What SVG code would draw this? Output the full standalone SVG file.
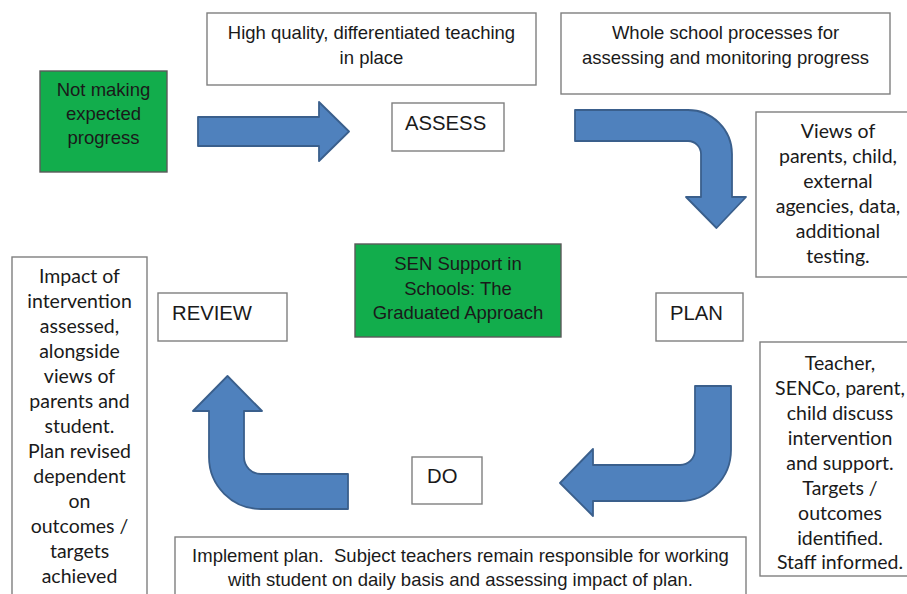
<svg xmlns="http://www.w3.org/2000/svg" width="907" height="594" viewBox="0 0 907 594">
<style>
  .box{fill:#ffffff;stroke:#7f7f7f;stroke-width:1.4}
  .green{fill:#12ad4c;stroke:#5a5a5a;stroke-width:1.4}
  .arial{font-family:"Liberation Sans",Arial,sans-serif;font-size:18.5px;fill:#1a1a1a}
  .stage{font-family:"Liberation Sans",Arial,sans-serif;font-size:20.3px;fill:#1a1a1a}
  .cal{font-family:Lato,"Open Sans",sans-serif;font-size:19.5px;fill:#1a1a1a}
  .mid{text-anchor:middle}
  .arrow{fill:#4f81bd;stroke:#3a5f8c;stroke-width:1.8;stroke-linejoin:round}
</style>
<rect width="907" height="594" fill="#ffffff"/>

<g id="connectors">
  <path class="arrow" d="M198,117 L319,117 L319,102 L349,131.5 L319,161 L319,146 L198,146 Z"/>
  <path class="arrow" d="M575,110 L688,110 A44,44 0 0 1 732,154 L732,197 L746,197 L716.5,228 L686,197 L701,197 L701,154 A13,13 0 0 0 688,141 L575,141 Z"/>
  <path class="arrow" d="M695,386 L731,386 L731,450 A51,51 0 0 1 680,501 L593,501 L593,516 L560,483 L593,449 L593,465 L680,465 A15,15 0 0 0 695,450 Z"/>
  <path class="arrow" d="M348,474 L261,474 A17,17 0 0 1 244,457 L244,411 L262,411 L227.5,376 L193,411 L209,411 L209,457 A52,52 0 0 0 261,509 L348,509 Z"/>
</g>

<g id="not-making">
  <rect class="green" x="40" y="71" width="127" height="101"/>
  <text class="arial mid" x="103.5" y="96">Not making</text>
  <text class="arial mid" x="103.5" y="120">expected</text>
  <text class="arial mid" x="103.5" y="144">progress</text>
</g>

<g id="high-quality">
  <rect class="box" x="207" y="13" width="329" height="72"/>
  <text class="arial mid" x="371.5" y="39">High quality, differentiated teaching</text>
  <text class="arial mid" x="371.5" y="63.5">in place</text>
</g>

<g id="whole-school">
  <rect class="box" x="561" y="13" width="329" height="81"/>
  <text class="arial mid" x="725.5" y="39">Whole school processes for</text>
  <text class="arial mid" x="725.5" y="63.5">assessing and monitoring progress</text>
</g>

<g id="assess">
  <rect class="box" x="392" y="103" width="112" height="48"/>
  <text class="stage" x="405" y="130">ASSESS</text>
</g>

<g id="views">
  <rect class="box" x="756" y="112" width="164" height="165"/>
  <text class="cal mid" x="838" y="138">Views of</text>
  <text class="cal mid" x="838" y="163">parents, child,</text>
  <text class="cal mid" x="838" y="188">external</text>
  <text class="cal mid" x="838" y="213">agencies, data,</text>
  <text class="cal mid" x="838" y="238">additional</text>
  <text class="cal mid" x="838" y="263">testing.</text>
</g>

<g id="sen-support">
  <rect class="green" x="355" y="244" width="206" height="93"/>
  <text class="arial mid" x="458" y="270">SEN Support in</text>
  <text class="arial mid" x="458" y="294.5">Schools: The</text>
  <text class="arial mid" x="458" y="319">Graduated Approach</text>
</g>

<g id="plan">
  <rect class="box" x="656" y="293" width="87" height="48"/>
  <text class="stage" x="670" y="320">PLAN</text>
</g>

<g id="review">
  <rect class="box" x="158" y="293" width="129" height="48"/>
  <text class="stage" x="172" y="320">REVIEW</text>
</g>

<g id="do">
  <rect class="box" x="412" y="457" width="70" height="47"/>
  <text class="stage" x="427" y="483">DO</text>
</g>

<g id="teacher">
  <rect class="box" x="760" y="342" width="160" height="234"/>
  <text class="cal mid" x="840" y="370">Teacher,</text>
  <text class="cal mid" x="840" y="395">SENCo, parent,</text>
  <text class="cal mid" x="840" y="420">child discuss</text>
  <text class="cal mid" x="840" y="445">intervention</text>
  <text class="cal mid" x="840" y="470">and support.</text>
  <text class="cal mid" x="840" y="495">Targets /</text>
  <text class="cal mid" x="840" y="520">outcomes</text>
  <text class="cal mid" x="840" y="544.5">identified.</text>
  <text class="cal mid" x="840" y="569">Staff informed.</text>
</g>

<g id="impact">
  <rect class="box" x="12" y="257" width="135" height="345"/>
  <text class="cal mid" x="79.5" y="283">Impact of</text>
  <text class="cal mid" x="79.5" y="308">intervention</text>
  <text class="cal mid" x="79.5" y="333">assessed,</text>
  <text class="cal mid" x="79.5" y="358">alongside</text>
  <text class="cal mid" x="79.5" y="383">views of</text>
  <text class="cal mid" x="79.5" y="408">parents and</text>
  <text class="cal mid" x="79.5" y="433">student.</text>
  <text class="cal mid" x="79.5" y="458">Plan revised</text>
  <text class="cal mid" x="79.5" y="483">dependent</text>
  <text class="cal mid" x="79.5" y="508">on</text>
  <text class="cal mid" x="79.5" y="533">outcomes /</text>
  <text class="cal mid" x="79.5" y="558">targets</text>
  <text class="cal mid" x="79.5" y="583">achieved</text>
</g>

<g id="implement">
  <rect class="box" x="175" y="537" width="571" height="65"/>
  <text class="arial mid" x="460.5" y="562" xml:space="preserve">Implement plan.  Subject teachers remain responsible for working</text>
  <text class="arial mid" x="460.5" y="586">with student on daily basis and assessing impact of plan.</text>
</g>
</svg>
